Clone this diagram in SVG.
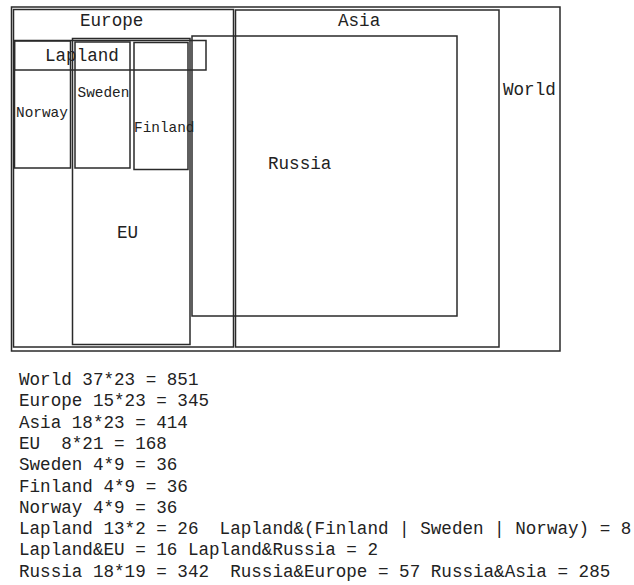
<svg xmlns="http://www.w3.org/2000/svg" width="634" height="585" viewBox="0 0 634 585">
<style>
.box{fill:none;stroke:#2a2a2a;stroke-width:1.5}
.t{font-family:"Liberation Mono","Courier New",monospace;font-size:17.6px;fill:#222}
.s{font-family:"Liberation Mono","Courier New",monospace;font-size:14.4px;fill:#222}
</style>
<rect width="634" height="585" fill="#fff"/>
<g id="World"><rect class="box" x="11.5" y="7" width="548.5" height="344"/><text class="t" x="503" y="95">World</text></g>
<g id="Europe"><rect class="box" x="13.5" y="9.5" width="220" height="337.5"/><text class="t" x="80" y="26">Europe</text></g>
<g id="Asia"><rect class="box" x="235.5" y="10" width="263.5" height="337"/><text class="t" x="338" y="26">Asia</text></g>
<g id="Russia"><rect class="box" x="192" y="36" width="265" height="280"/><text class="t" x="268" y="169">Russia</text></g>
<g id="EU"><rect class="box" x="72.5" y="38.5" width="117.5" height="306"/><text class="t" x="117" y="238">EU</text></g>
<g id="Lapland"><rect class="box" x="14.5" y="40.5" width="191.5" height="29.5"/><text class="t" x="45" y="61">Lapland</text></g>
<g id="Norway"><rect class="box" x="14.5" y="41" width="56" height="127"/><text class="s" x="16" y="117">Norway</text></g>
<g id="Sweden"><rect class="box" x="75" y="42" width="55" height="126"/><text class="s" x="77.5" y="96.5">Sweden</text></g>
<g id="Finland"><rect class="box" x="134" y="42.5" width="54" height="127"/><text class="s" x="134" y="132">Finland</text></g>
<g id="connectors"></g>
<g id="legend" class="t">
<text x="19" y="385">World 37*23 = 851</text>
<text x="19" y="406.3">Europe 15*23 = 345</text>
<text x="19" y="427.6">Asia 18*23 = 414</text>
<text x="19" y="448.9" xml:space="preserve">EU  8*21 = 168</text>
<text x="19" y="470.2">Sweden 4*9 = 36</text>
<text x="19" y="491.5">Finland 4*9 = 36</text>
<text x="19" y="512.8">Norway 4*9 = 36</text>
<text x="19" y="534.1" xml:space="preserve">Lapland 13*2 = 26  Lapland&amp;(Finland | Sweden | Norway) = 8</text>
<text x="19" y="555.4">Lapland&amp;EU = 16 Lapland&amp;Russia = 2</text>
<text x="19" y="576.7" xml:space="preserve">Russia 18*19 = 342  Russia&amp;Europe = 57 Russia&amp;Asia = 285</text>
</g>
</svg>
